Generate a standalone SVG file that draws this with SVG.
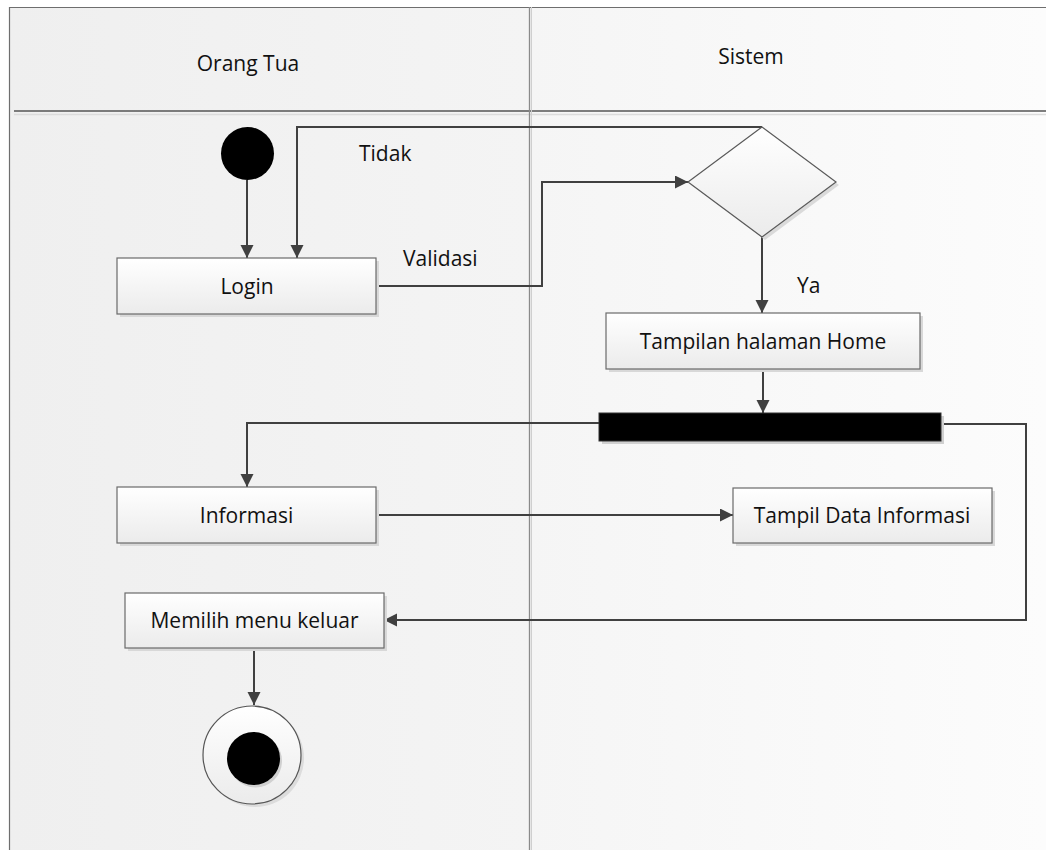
<svg xmlns="http://www.w3.org/2000/svg" width="1046" height="850" viewBox="0 0 1046 850">
<defs>
<linearGradient id="boxg" x1="0" y1="0" x2="0" y2="1"><stop offset="0" stop-color="#ffffff"/><stop offset="1" stop-color="#ebebeb"/></linearGradient>
<linearGradient id="laneL" x1="0" y1="0" x2="1" y2="0"><stop offset="0" stop-color="#efefef"/><stop offset="1" stop-color="#f4f4f4"/></linearGradient>
<linearGradient id="laneR" x1="0" y1="0" x2="1" y2="0"><stop offset="0" stop-color="#f5f5f5"/><stop offset="1" stop-color="#fcfcfc"/></linearGradient>
<marker id="arr" markerUnits="userSpaceOnUse" markerWidth="14" markerHeight="14" refX="13" refY="6.5" orient="auto"><path d="M0,0 L13,6.5 L0,13 z" fill="#404040"/></marker>
<style>
.box{fill:url(#boxg);stroke:#6a6a6a;stroke-width:1.2}
.sh{fill:#d8d8d8}
.t{font-family:"Open Sans","Noto Sans",sans-serif;font-size:21px;fill:#111}
.c{stroke:#404040;stroke-width:2;fill:none;marker-end:url(#arr)}
.cn{stroke:#404040;stroke-width:2;fill:none}
</style>
</defs>
<rect width="1046" height="850" fill="#ffffff"/>
<g id="lanes">
<rect x="9" y="7" width="521" height="843" fill="url(#laneL)"/>
<rect x="530" y="7" width="516" height="843" fill="url(#laneR)"/>
<path d="M9,7.5 H1046 M9.5,7 V850" stroke="#6e6e6e" stroke-width="1.2" fill="none"/>
<path d="M14,111 H1046" stroke="#555" stroke-width="1.3"/>
<path d="M14,114.5 H1046" stroke="#dcdcdc" stroke-width="1.5"/>
<path d="M529.5,7 V850" stroke="#8a8a8a" stroke-width="1.3"/>
<path d="M531.5,7 V850" stroke="#cfcfcf" stroke-width="1"/>
<text class="t" x="248" y="71" text-anchor="middle">Orang Tua</text>
<text class="t" x="751" y="64" text-anchor="middle">Sistem</text>
</g>
<g id="connectors">
<path class="c" d="M247,180 V258"/>
<path class="c" d="M762,127 H297 V258"/>
<path class="c" d="M376,286 H542 V182 H688"/>
<path class="c" d="M762,237 V313"/>
<path class="c" d="M763,369 V413"/>
<path class="c" d="M599,423 H247 V487"/>
<path class="c" d="M376,515 H733"/>
<path class="c" d="M941,424 H1026 V620 H384"/>
<path class="c" d="M254,648 V705"/>
<text class="t" x="359" y="161">Tidak</text>
<text class="t" x="403" y="266">Validasi</text>
<text class="t" x="797" y="293">Ya</text>
</g>
<g id="start"><circle cx="247.5" cy="153.5" r="26.5" fill="#000"/></g>
<g id="login">
<rect class="sh" x="120" y="261" width="259" height="56"/>
<rect class="box" x="117" y="258" width="259" height="56"/>
<text class="t" x="247" y="294" text-anchor="middle">Login</text>
</g>
<g id="decision">
<polygon points="765,130 839,185 765,240 691,185" fill="#dadada"/>
<polygon points="762,127 836,182 762,237 688,182" fill="url(#boxg)" stroke="#5a5a5a" stroke-width="1.2"/>
</g>
<g id="home">
<rect class="sh" x="609" y="316" width="314" height="56"/>
<rect class="box" x="606" y="313" width="314" height="56"/>
<text class="t" x="763" y="349" text-anchor="middle">Tampilan halaman Home</text>
</g>
<g id="fork">
<rect x="602" y="416" width="342" height="28" fill="#d0d0d0"/>
<rect x="599" y="413" width="342" height="28" fill="#000" stroke="#333" stroke-width="1"/>
</g>
<g id="informasi">
<rect class="sh" x="120" y="490" width="259" height="56"/>
<rect class="box" x="117" y="487" width="259" height="56"/>
<text class="t" x="246.5" y="523" text-anchor="middle">Informasi</text>
</g>
<g id="tampildata">
<rect class="sh" x="736" y="491" width="259" height="55"/>
<rect class="box" x="733" y="488" width="259" height="55"/>
<text class="t" x="862" y="523" text-anchor="middle">Tampil Data Informasi</text>
</g>
<g id="keluar">
<rect class="sh" x="128" y="596" width="259" height="55"/>
<rect class="box" x="125" y="593" width="259" height="55"/>
<text class="t" x="254.5" y="628" text-anchor="middle">Memilih menu keluar</text>
</g>
<g id="end">
<circle cx="255" cy="758" r="49" fill="#dcdcdc"/>
<circle cx="252" cy="755" r="49" fill="url(#boxg)" stroke="#555" stroke-width="1.2"/>
<circle cx="255.5" cy="761" r="26.5" fill="#d0d0d0"/>
<circle cx="253.5" cy="758.5" r="26.5" fill="#000"/>
</g>
</svg>
